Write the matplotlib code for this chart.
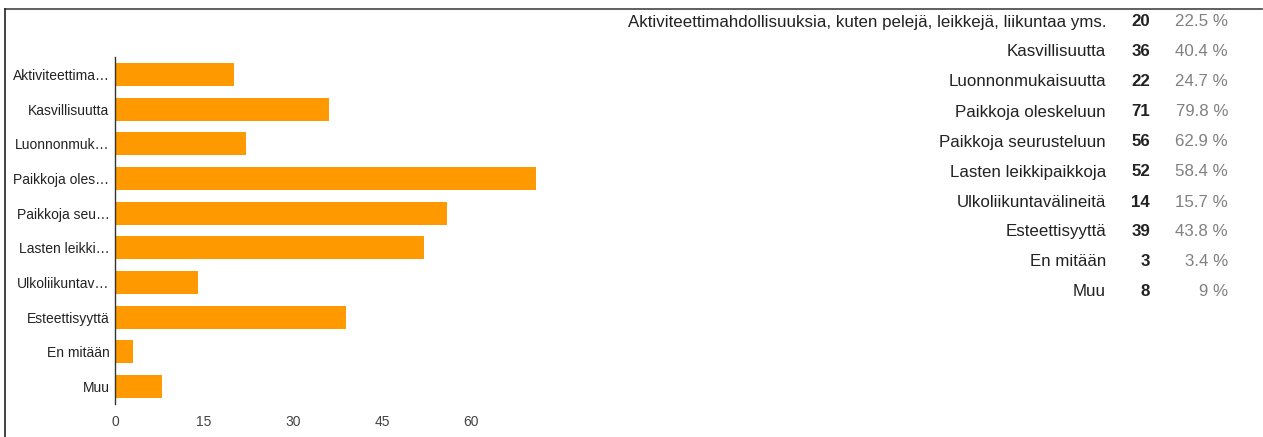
import matplotlib.pyplot as plt
from matplotlib.lines import Line2D

plt.rcParams['font.family'] = ['Liberation Sans', 'DejaVu Sans']

# vastaukset
categories = ['Aktiviteettimahdollisuuksia, kuten pelejä, leikkejä, liikuntaa yms.',
              'Kasvillisuutta', 'Luonnonmukaisuutta', 'Paikkoja oleskeluun',
              'Paikkoja seurusteluun', 'Lasten leikkipaikkoja', 'Ulkoliikuntavälineitä',
              'Esteettisyyttä', 'En mitään', 'Muu']
short_labels = ['Aktiviteettima…', 'Kasvillisuutta', 'Luonnonmuk…', 'Paikkoja oles…',
                'Paikkoja seu…', 'Lasten leikki…', 'Ulkoliikuntav…', 'Esteettisyyttä',
                'En mitään', 'Muu']
counts = [20, 36, 22, 71, 56, 52, 14, 39, 3, 8]
percents = ['22.5 %', '40.4 %', '24.7 %', '79.8 %', '62.9 %', '58.4 %',
            '15.7 %', '43.8 %', '3.4 %', '9 %']
xticks = [0, 15, 30, 45, 60]

W, H = 1263, 437
fig = plt.figure(figsize=(W / 100, H / 100), dpi=100)

# pylväskaavio vasemmalla
ax = fig.add_axes([115 / W, 1 - 404 / H, 445 / W, (404 - 57) / H])
y = list(range(len(counts)))
ax.barh(y, counts, height=0.66, color='#ff9900', edgecolor='none')
ax.set_ylim(len(counts) - 0.5, -0.5)
ax.set_xlim(0, 75)
ax.set_yticks(y)
ax.set_yticklabels(short_labels, fontsize=10, color='#222222')
ax.set_xticks(xticks)
ax.set_xticklabels([str(t) for t in xticks], fontsize=10, color='#444444')
ax.tick_params(axis='both', length=0, pad=4)
ax.tick_params(axis='x', pad=8)
for s in ['top', 'right', 'bottom']:
    ax.spines[s].set_visible(False)
ax.spines['left'].set_color('#333333')
ax.spines['left'].set_linewidth(1)

# taulukko oikealla
for i, (lab, c, p) in enumerate(zip(categories, counts, percents)):
    yy = 1 - (22 + i * 30) / H
    fig.text(1106 / W, yy, lab, ha='right', va='center', fontsize=12.2, color='#222222')
    fig.text(1150 / W, yy, str(c), ha='right', va='center', fontsize=12.2,
             fontweight='bold', color='#222222')
    fig.text(1228 / W, yy, p, ha='right', va='center', fontsize=12.2, color='#808080')

# kehys
fig.add_artist(Line2D([5 / W, 1262 / W], [1 - 9 / H, 1 - 9 / H],
                      transform=fig.transFigure, color='#444444', lw=1.2))
fig.add_artist(Line2D([5 / W, 5 / W], [1 - 9 / H, 0],
                      transform=fig.transFigure, color='#222222', lw=1.2))

fig.savefig('out.png', dpi=100)
